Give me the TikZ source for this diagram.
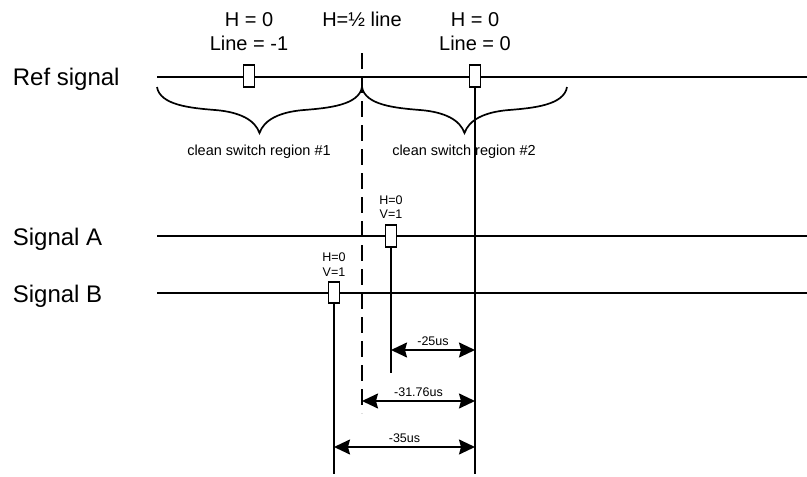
\documentclass[tikz,border=0pt]{standalone}
\usepackage{fontspec}
\setmainfont{Liberation Sans}
\usetikzlibrary{arrows.meta}
\tikzset{
  pulse/.style={draw, fill=white, minimum width=11pt, minimum height=21.5pt, inner sep=0pt},
  biglabel/.style={font=\fontsize{24}{28}\selectfont},
  toplabel/.style={font=\fontsize{20}{24}\selectfont},
  midlabel/.style={font=\fontsize{14.5}{17}\selectfont},
  smalllabel/.style={font=\fontsize{12.5}{14}\selectfont},
  halfline/.style={dash pattern=on 16pt off 8pt},
  dim/.style={{Stealth[length=16pt,width=15pt,inset=2pt]}-{Stealth[length=16pt,width=15pt,inset=2pt]}},
  swbrace/.pic={\draw (0,0) .. controls (3,18) and (33,21) .. (58,23)
      .. controls (83,25) and (98,33) .. (102.5,46)
      .. controls (107,33) and (122,25) .. (147,23)
      .. controls (172,21) and (202,18) .. (205,0);}
}
\begin{document}
\begin{tikzpicture}[x=1pt, y=-1pt, line width=1.7pt]
  \useasboundingbox (0,0) rectangle (807,477);
  % signal names
  \node [biglabel, anchor=base west, inner sep=0pt] (nref) at (12,85) {Ref signal};
  \node [biglabel, anchor=base west, inner sep=0pt] (na) at (12,245) {Signal A};
  \node [biglabel, anchor=base west, inner sep=0pt] (nb) at (12,302) {Signal B};
  % signal lines
  \coordinate (refs) at (157,77);  \coordinate (refe) at (807,77);
  \coordinate (as) at (157,236);   \coordinate (ae) at (807,236);
  \coordinate (bs) at (157,293);   \coordinate (be) at (807,293);
  \draw (refs) -- (refe);
  \draw (as) -- (ae);
  \draw (bs) -- (be);
  % braces
  \pic at (157,87) {swbrace};
  \pic at (362,87) {swbrace};
  \node [midlabel, anchor=base] (reg1) at (259,155) {clean switch region \#1};
  \node [midlabel, anchor=base] (reg2) at (464,155) {clean switch region \#2};
  % half line marker
  \coordinate (hht) at (362,53);
  \coordinate (hhb) at (362,413);
  \draw [halfline] (hht) -- (hhb);
  \node [toplabel, anchor=base] (hh) at (362,26) {H=½ line};
  % sync pulses
  \node [pulse] (p1) at (249,76) {};
  \node [pulse] (p2) at (475,76) {};
  \node [pulse] (pa) at (391,236) {};
  \node [pulse] (pb) at (334,292.5) {};
  \node [toplabel, anchor=base] (h1) at (249,26) {H = 0};
  \node [toplabel, anchor=base] (l1) at (249,50) {Line = -1};
  \node [toplabel, anchor=base] (h2) at (475,26) {H = 0};
  \node [toplabel, anchor=base] (l2) at (475,50) {Line = 0};
  \node [smalllabel, anchor=base] (ha) at (391,204) {H=0};
  \node [smalllabel, anchor=base] (va) at (391,218) {V=1};
  \node [smalllabel, anchor=base] (hb) at (334,261) {H=0};
  \node [smalllabel, anchor=base] (vb) at (334,276) {V=1};
  % drop lines
  \coordinate (p2b) at (475,474);
  \coordinate (pab) at (391,373);
  \coordinate (pbb) at (334,474);
  \draw (p2.south) -- (p2b);
  \draw (pa.south) -- (pab);
  \draw (pb.south) -- (pbb);
  % offsets
  \coordinate (d1a) at (391,350);  \coordinate (d1b) at (475,350);
  \coordinate (d2a) at (362,401);  \coordinate (d2b) at (475,401);
  \coordinate (d3a) at (334,447);  \coordinate (d3b) at (475,447);
  \draw [dim] (d1a) -- node [smalllabel, above=4pt, inner sep=0pt] (t1) {-25us} (d1b);
  \draw [dim] (d2a) -- node [smalllabel, above=4pt, inner sep=0pt] (t2) {-31.76us} (d2b);
  \draw [dim] (d3a) -- node [smalllabel, above=4pt, inner sep=0pt] (t3) {-35us} (d3b);
\end{tikzpicture}
\end{document}
